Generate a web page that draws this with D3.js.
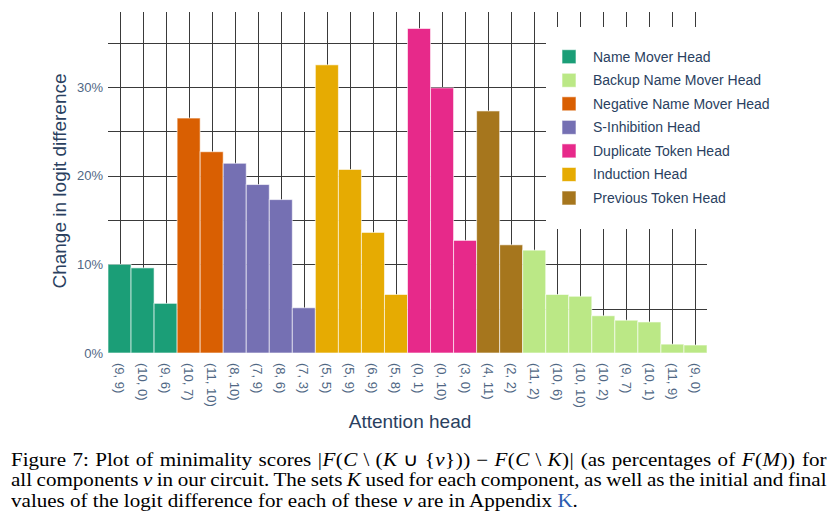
<!DOCTYPE html>
<html>
<head>
<meta charset="utf-8">
<script src="https://cdn.jsdelivr.net/npm/d3@7"></script>
<style>
  body { margin: 0; background: #fff; width: 837px; height: 526px; position: relative; overflow: hidden; }
  svg { position: absolute; left: 0; top: 0; }
  /* caption text is a bit wider than plain Times in the original, so stretch it */
  .cap { position: absolute; left: 11px; width: 697px; font-family: "Liberation Serif", "Times New Roman", serif;
         font-size: 18px; line-height: 20.5px; color: #000; white-space: nowrap;
         transform: scaleX(1.17); transform-origin: 0 0; }
  .just { text-align: justify; text-align-last: justify; word-spacing: -2.5px; }
  .m { display: inline-block; letter-spacing: 0.4px; word-spacing: 0; }
  .link { color: #2b5cb0; }
</style>
</head>
<body>
<svg id="chart" width="837" height="440"></svg>
<div class="cap just" style="top:450px">Figure 7: Plot of minimality scores <span class="m">|<i>F</i>(<i>C</i>&#8197;\&#8197;(<i>K</i>&#8197;∪&#8197;{<i>v</i>}))&#8197;−&#8197;<i>F</i>(<i>C</i>&#8197;\&#8197;<i>K</i>)|</span> (as percentages of <span class="m"><i>F</i>(<i>M</i>))</span> for</div>
<div class="cap just" style="top:470px">all components <i>v</i> in our circuit. The sets <i>K</i> used for each component, as well as the initial and final</div>
<div class="cap" style="top:491px">values of the logit difference for each of these <i>v</i> are in Appendix <span class="link">K</span>.</div>
<script>
// heads in the order they're plotted, with their group and minimality score (%)
const heads = ['(9, 9)', '(10, 0)', '(9, 6)', '(10, 7)', '(11, 10)', '(8, 10)', '(7, 9)', '(8, 6)', '(7, 3)',
  '(5, 5)', '(5, 9)', '(6, 9)', '(5, 8)', '(0, 1)', '(0, 10)', '(3, 0)', '(4, 11)', '(2, 2)',
  '(11, 2)', '(10, 6)', '(10, 10)', '(10, 2)', '(9, 7)', '(10, 1)', '(11, 9)', '(9, 0)'];
const groups = ['Name Mover Head', 'Name Mover Head', 'Name Mover Head',
  'Negative Name Mover Head', 'Negative Name Mover Head',
  'S-Inhibition Head', 'S-Inhibition Head', 'S-Inhibition Head', 'S-Inhibition Head',
  'Induction Head', 'Induction Head', 'Induction Head', 'Induction Head',
  'Duplicate Token Head', 'Duplicate Token Head', 'Duplicate Token Head',
  'Previous Token Head', 'Previous Token Head',
  'Backup Name Mover Head', 'Backup Name Mover Head', 'Backup Name Mover Head', 'Backup Name Mover Head',
  'Backup Name Mover Head', 'Backup Name Mover Head', 'Backup Name Mover Head', 'Backup Name Mover Head'];
const scores = [10.0, 9.6, 5.6, 26.5, 22.7, 21.4, 19.0, 17.3, 5.1,
  32.5, 20.7, 13.6, 6.6, 36.6, 29.9, 12.7, 27.3, 12.2,
  11.6, 6.6, 6.4, 4.2, 3.7, 3.5, 1.0, 0.9];

// legend order + colours
const legendNames = ['Name Mover Head', 'Backup Name Mover Head', 'Negative Name Mover Head',
  'S-Inhibition Head', 'Duplicate Token Head', 'Induction Head', 'Previous Token Head'];
const legendColors = ['#1b9e77', '#bbe886', '#d95f02', '#7570b3', '#e7298a', '#e6ab02', '#a6761d'];
const yTicks = [0, 10, 20, 30];
const yGrid = [5, 10, 15, 20, 25, 30, 35];

const data = heads.map((h, i) => ({head: h, group: groups[i], value: scores[i]}));

const svg = d3.select('#chart');
const plotL = 108, plotR = 707, plotT = 12, plotB = 353;

const x = d3.scaleBand().domain(heads).range([plotL, plotR]).padding(0);
const y = d3.scaleLinear().domain([0, 38.46]).range([plotB, plotT]);
const color = d3.scaleOrdinal().domain(legendNames).range(legendColors);

// grid first (dark lines, under the bars)
svg.append('g').selectAll('line')
  .data(heads)
  .enter().append('line')
  .attr('x1', d => Math.round(x(d) + x.bandwidth() / 2) + 0.5)
  .attr('x2', d => Math.round(x(d) + x.bandwidth() / 2) + 0.5)
  .attr('y1', plotT).attr('y2', plotB)
  .attr('stroke', '#3a3a3a').attr('stroke-width', 1);

svg.append('g').selectAll('line')
  .data(yGrid)
  .enter().append('line')
  .attr('x1', plotL).attr('x2', plotR)
  .attr('y1', d => Math.round(y(d)) + 0.5)
  .attr('y2', d => Math.round(y(d)) + 0.5)
  .attr('stroke', '#3a3a3a').attr('stroke-width', 1);

// bars
svg.append('g').selectAll('rect')
  .data(data)
  .enter().append('rect')
  .attr('x', d => x(d.head))
  .attr('width', x.bandwidth())
  .attr('y', d => y(d.value))
  .attr('height', d => y(0) - y(d.value))
  .attr('fill', d => color(d.group))
  .attr('stroke', 'rgba(255,255,255,0.6)')
  .attr('stroke-width', 1);

// y axis (no line, just labels)
const yAxis = svg.append('g')
  .attr('transform', `translate(${plotL},0)`)
  .call(d3.axisLeft(y).tickValues(yTicks).tickFormat(d => d + '%').tickSize(0).tickPadding(5));
yAxis.select('.domain').remove();
yAxis.selectAll('text')
  .attr('font-family', 'Liberation Sans, Arial, sans-serif')
  .attr('font-size', 13)
  .attr('fill', '#506784');

// x axis, labels turned 90deg
const xAxis = svg.append('g')
  .attr('transform', `translate(0,${plotB})`)
  .call(d3.axisBottom(x).tickSize(0));
xAxis.select('.domain').remove();
xAxis.selectAll('text')
  .attr('font-family', 'Liberation Sans, Arial, sans-serif')
  .attr('font-size', 13)
  .attr('fill', '#506784')
  .attr('transform', 'rotate(90)')
  .attr('x', 10)
  .attr('y', 0)
  .attr('dy', '0.35em')
  .attr('text-anchor', 'start');

// axis titles
svg.append('text')
  .attr('transform', 'translate(66,181) rotate(-90)')
  .attr('text-anchor', 'middle')
  .attr('font-family', 'Liberation Sans, Arial, sans-serif')
  .attr('font-size', 19)
  .attr('fill', '#2a3f5f')
  .text('Change in logit difference');

svg.append('text')
  .attr('x', 410).attr('y', 428)
  .attr('text-anchor', 'middle')
  .attr('font-family', 'Liberation Sans, Arial, sans-serif')
  .attr('font-size', 19)
  .attr('fill', '#2a3f5f')
  .text('Attention head');

// legend, white box over the grid
const legend = svg.append('g');
legend.append('rect')
  .attr('x', 546).attr('y', 27)
  .attr('width', 290).attr('height', 202)
  .attr('fill', '#fff');

const item = legend.selectAll('g')
  .data(legendNames)
  .enter().append('g')
  .attr('transform', (d, i) => `translate(562,${56.7 + i * 23.55})`);
item.append('rect')
  .attr('x', 0).attr('y', -7)
  .attr('width', 14).attr('height', 14)
  .attr('fill', d => color(d))
  .attr('stroke', 'rgba(255,255,255,0.6)');
item.append('text')
  .attr('x', 31).attr('dy', '0.35em')
  .attr('font-family', 'Liberation Sans, Arial, sans-serif')
  .attr('font-size', 14)
  .attr('fill', '#2a3f5f')
  .text(d => d);
</script>
</body>
</html>
